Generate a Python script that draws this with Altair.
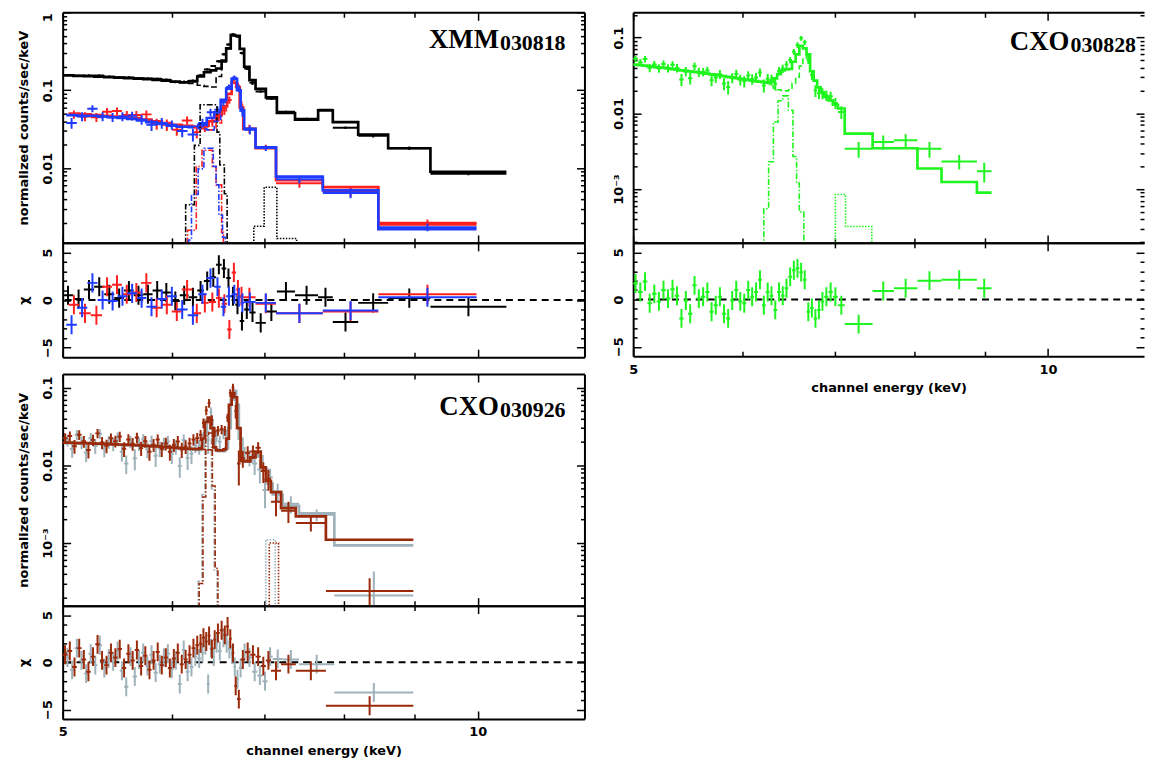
import altair as alt
import pandas as pd

FLOOR = 1e-6
SANS = "DejaVu Sans"
SERIF = "Liberation Serif"

BLACK = "#000000"
RED = "#ff1f1f"
BLUE = "#1f3bff"
GREEN = "#1ef51e"
BROWN = "#9a2a0a"
GREY = "#9fb2ba"

# ---------------- XMM 030818 : black (pn) ----------------
pn_edges = [5.00, 5.09, 5.18, 5.27, 5.36, 5.45, 5.54, 5.63, 5.72, 5.81, 5.90, 5.99, 6.08, 6.17, 6.26,
            6.33, 6.40, 6.46, 6.52, 6.57, 6.62, 6.67, 6.72, 6.77, 6.83, 6.90, 7.02, 7.15, 7.37, 7.66,
            7.85, 8.19, 8.61, 9.24, 10.49]
pn_model = [0.155, 0.153, 0.151, 0.149, 0.147, 0.145, 0.143, 0.141, 0.139, 0.136, 0.133, 0.129, 0.126,
            0.130, 0.150, 0.170, 0.180, 0.190, 0.240, 0.345, 0.510, 0.500, 0.340, 0.200, 0.135, 0.104,
            0.081, 0.051, 0.042, 0.055, 0.039, 0.027, 0.018, 0.009]
pn_flux = [0.157, 0.153, 0.155, 0.154, 0.149, 0.146, 0.146, 0.143, 0.141, 0.140, 0.136, 0.128, 0.128,
           0.132, 0.155, 0.185, 0.205, 0.235, 0.290, 0.385, 0.520, 0.490, 0.300, 0.190, 0.125, 0.096,
           0.078, 0.053, 0.043, 0.056, 0.033, 0.026, 0.018, 0.0085]
pn_err = [0.005, 0.005, 0.005, 0.005, 0.005, 0.005, 0.005, 0.005, 0.005, 0.005, 0.005, 0.005, 0.005,
          0.005, 0.006, 0.006, 0.006, 0.010, 0.010, 0.012, 0.020, 0.020, 0.012, 0.008, 0.008, 0.003,
          0.003, 0.0015, 0.0015, 0.0015, 0.0013, 0.0013, 0.0009, 0.0004]
pn_chi = [0.5, 0.1, 1.1, 1.4, 0.6, 0.2, 1.0, 0.5, 0.6, 1.0, 0.8, -0.1, 0.5, 0.3, 1.0, 2.0, 2.4, 3.7,
          3.3, 2.3, 0.4, -0.5, -2.2, -1.0, -1.3, -2.4, -1.2, 0.9, 0.5, 0.3, -2.3, -0.3, 0.2, -0.7]
pn_dash_edges = [6.08, 6.17, 6.26, 6.33, 6.40, 6.46, 6.52, 6.57, 6.62, 6.67, 6.72, 6.77, 6.83, 6.90]
pn_dash_vals = [0.126, 0.122, 0.116, 0.112, 0.110, 0.150, 0.230, 0.340, 0.500, 0.495, 0.335, 0.198, 0.134]
pn_fe64_edges = [6.10, 6.14, 6.23, 6.29, 6.47, 6.50, 6.55, 6.58, 6.62]
pn_fe64_vals = [FLOOR, 0.0034, 0.0196, 0.065, 0.029, 0.011, 0.0047, FLOOR]
pn_kb_edges = [6.85, 6.88, 7.00, 7.15, 7.39, 7.42]
pn_kb_vals = [FLOOR, 0.0018, 0.0057, 0.00125, FLOOR]

# ---------------- XMM 030818 : red (MOS1) ----------------
m1_edges = [5.05, 5.14, 5.24, 5.34, 5.43, 5.52, 5.61, 5.70, 5.80, 5.90, 6.00, 6.10, 6.21, 6.30, 6.38,
            6.46, 6.52, 6.58, 6.63, 6.68, 6.72, 6.76, 6.90, 7.14, 7.72, 8.47, 9.98]
m1_model = [0.050, 0.049, 0.048, 0.047, 0.046, 0.045, 0.044, 0.042, 0.040, 0.038, 0.036, 0.035, 0.034,
            0.035, 0.040, 0.048, 0.062, 0.090, 0.125, 0.110, 0.060, 0.032, 0.0180, 0.0070, 0.0057, 0.0019]
m1_flux = [0.049, 0.046, 0.045, 0.053, 0.054, 0.048, 0.048, 0.049, 0.037, 0.036, 0.031, 0.041, 0.029,
           0.034, 0.040, 0.046, 0.055, 0.075, 0.140, 0.115, 0.064, 0.032, 0.0185, 0.0064, 0.0050, 0.0020]
m1_err = [0.006, 0.006, 0.006, 0.006, 0.006, 0.006, 0.006, 0.006, 0.006, 0.006, 0.005, 0.005, 0.005,
          0.005, 0.006, 0.006, 0.007, 0.008, 0.010, 0.010, 0.008, 0.004, 0.0015, 0.0008, 0.0007, 0.0002]
m1_chi = [-0.5, -1.4, -1.6, 1.4, 1.6, 0.6, 0.8, 1.8, -0.8, -0.5, -1.2, 1.1, -1.4, -0.3, -0.2, 0.2,
          -0.4, -3.1, 2.9, 1.1, 0.4, 0.3, -0.4, -1.4, -1.2, 0.6]
m1_dash_edges = [6.21, 6.30, 6.38, 6.46, 6.52, 6.58]
m1_dash_vals = [0.033, 0.032, 0.031, 0.038, 0.058]
m1_fe64_edges = [6.12, 6.16, 6.25, 6.31, 6.42, 6.46, 6.52, 6.54, 6.58]
m1_fe64_vals = [FLOOR, 0.0016, 0.0105, 0.017, 0.0105, 0.0061, 0.0015, FLOOR]

# ---------------- XMM 030818 : blue (MOS2) ----------------
m2_edges = [5.03, 5.12, 5.21, 5.30, 5.39, 5.48, 5.57, 5.66, 5.75, 5.85, 5.95, 6.05, 6.16, 6.27, 6.36,
            6.44, 6.51, 6.57, 6.63, 6.69, 6.73, 6.77, 6.90, 7.14, 7.72, 8.47, 9.98]
m2_model = [0.048, 0.047, 0.047, 0.046, 0.045, 0.044, 0.043, 0.041, 0.039, 0.037, 0.035, 0.034, 0.034,
            0.036, 0.044, 0.052, 0.075, 0.105, 0.140, 0.100, 0.055, 0.032, 0.0185, 0.0078, 0.0052, 0.00165]
m2_flux = [0.038, 0.046, 0.058, 0.046, 0.045, 0.046, 0.047, 0.042, 0.036, 0.038, 0.036, 0.030, 0.027,
           0.038, 0.052, 0.056, 0.070, 0.110, 0.145, 0.105, 0.054, 0.031, 0.0181, 0.0072, 0.0048, 0.00175]
m2_err = [0.006, 0.006, 0.006, 0.006, 0.006, 0.006, 0.006, 0.006, 0.006, 0.006, 0.005, 0.005, 0.005,
          0.005, 0.006, 0.006, 0.007, 0.008, 0.010, 0.010, 0.008, 0.004, 0.0015, 0.0008, 0.0007, 0.0002]
m2_chi = [-2.6, -0.8, 1.8, 0.0, -0.1, 0.4, 0.7, 0.2, -0.7, 0.1, 0.4, -1.0, -1.6, 0.6, 2.3, 1.4, -0.7,
          0.4, 0.6, 0.3, -0.3, -0.2, -0.3, -1.4, -1.1, 0.3]
m2_dash_edges = [6.16, 6.27, 6.36, 6.44, 6.51, 6.57]
m2_dash_vals = [0.033, 0.032, 0.031, 0.040, 0.070]
m2_fe64_edges = [6.13, 6.17, 6.20, 6.27, 6.33, 6.43, 6.46, 6.49, 6.53, 6.56, 6.60]
m2_fe64_vals = [FLOOR, 0.0012, 0.0046, 0.0098, 0.018, 0.0105, 0.0061, 0.0025, 0.0013, FLOOR]

# ---------------- CXO 030828 : green ----------------
g_edges = [5.00, 5.04, 5.08, 5.12, 5.16, 5.20, 5.24, 5.28, 5.32, 5.36, 5.40, 5.44, 5.48, 5.52, 5.56,
           5.60, 5.64, 5.68, 5.72, 5.76, 5.80, 5.84, 5.88, 5.92, 5.96, 6.00, 6.04, 6.08, 6.12, 6.16,
           6.20, 6.24, 6.28, 6.32, 6.36, 6.40, 6.44, 6.48, 6.52, 6.56, 6.60, 6.64, 6.68, 6.72, 6.76,
           6.80, 6.84, 6.88, 6.93, 6.98, 7.04, 7.12, 7.46, 7.73, 8.04, 8.37, 8.88, 9.10]
g_model = [0.0440, 0.0433, 0.0426, 0.0419, 0.0412, 0.0405, 0.0398, 0.0391, 0.0384, 0.0377, 0.0370,
           0.0364, 0.0358, 0.0352, 0.0346, 0.0340, 0.0334, 0.0328, 0.0322, 0.0316, 0.0310, 0.0304,
           0.0298, 0.0292, 0.0286, 0.0281, 0.0276, 0.0271, 0.0266, 0.0262, 0.0258,
           0.0255, 0.0262, 0.0290, 0.0330,
           0.0370, 0.0380, 0.0385, 0.0480, 0.0600, 0.0780, 0.0720, 0.0600, 0.0360, 0.0270, 0.0220,
           0.0190, 0.0165, 0.0148, 0.0130, 0.0116,
           0.0054, 0.00346, 0.00346, 0.00187, 0.00124, 0.00090]
g_flux = [0.0525, 0.0473, 0.0521, 0.0399, 0.0442, 0.0395, 0.0448, 0.0396, 0.0439, 0.0397, 0.0280,
          0.0359, 0.0290, 0.0420, 0.0351, 0.0353, 0.0369, 0.0273, 0.0297, 0.0329, 0.0247, 0.0222,
          0.0294, 0.0332, 0.0278, 0.0265, 0.0316, 0.0283, 0.0298, 0.0346, 0.0234, 0.0287, 0.0278,
          0.0246, 0.0365,
          0.0390, 0.0440, 0.0505, 0.0650, 0.0800, 0.0980, 0.0870, 0.0510, 0.0320, 0.0200, 0.0185,
          0.0184, 0.0173, 0.0168, 0.0137, 0.0104,
          0.0034, 0.0042, 0.0044, 0.0034, 0.00232, 0.00172]
g_err = [0.005, 0.005, 0.005, 0.005, 0.005, 0.005, 0.005, 0.005, 0.005, 0.005, 0.005, 0.005, 0.005,
         0.005, 0.005, 0.0045, 0.0045, 0.0045, 0.0045, 0.0045, 0.0045, 0.0045, 0.0045, 0.0045, 0.0045,
         0.0045, 0.0045, 0.0045, 0.0045, 0.0045, 0.0045, 0.0045, 0.0045, 0.0045, 0.0045,
         0.005, 0.005, 0.005, 0.0055, 0.007, 0.007, 0.007,
         0.006, 0.0045, 0.0035, 0.003, 0.003, 0.0027, 0.0025, 0.0023, 0.002,
         0.0008, 0.0009, 0.0009, 0.0008, 0.0005, 0.0005]
g_chi = [1.7, 0.8, 1.9, -0.4, 0.6, -0.2, 1.0, 0.1, 1.1, 0.4, -2.0, -0.1, -1.5, 1.5, 0.1, 0.3, 0.8,
         -1.3, -0.6, 0.3, -1.5, -2.0, -0.1, 1.0, -0.2, -0.4, 1.0, 0.3, 0.8, 2.1, -0.6, 0.8, 0.4,
         -1.1, 0.8, 0.4, 1.2, 2.4, 3.1, 3.3, 2.9, 2.1, -1.3, -0.9, -2.0, -1.1, -0.2, 0.3, 0.8, 0.3,
         -0.6, -2.6, 0.9, 1.2, 2.0, 2.1, 1.2]
g_dash_edges = [6.24, 6.28, 6.32, 6.36, 6.40, 6.44, 6.48, 6.52, 6.56, 6.60, 6.64, 6.68, 6.72, 6.76, 6.80]
g_dash_vals = [0.0250, 0.0230, 0.0215, 0.0205, 0.0200, 0.0198, 0.0205, 0.0250, 0.0300, 0.0420,
               0.0540, 0.0580, 0.0360, 0.0270]
g_fe64_edges = [6.18, 6.22, 6.27, 6.32, 6.37, 6.42, 6.48, 6.53, 6.57, 6.60, 6.65, 6.70]
g_fe64_vals = [FLOOR, 5.5e-4, 2.3e-3, 7.7e-3, 0.0147, 0.017, 0.011, 2.7e-3, 1.2e-3, 5e-4, FLOOR]
g_kb_edges = [6.98, 7.01, 7.13, 7.45, 7.50]
g_kb_vals = [FLOOR, 8.5e-4, 3.2e-4, FLOOR]

# ---------------- CXO 030926 : brown ----------------
b_edges = [5.00, 5.04, 5.08, 5.12, 5.16, 5.20, 5.24, 5.28, 5.32, 5.36, 5.40, 5.44, 5.48, 5.52, 5.56,
           5.60, 5.64, 5.68, 5.72, 5.76, 5.80, 5.84, 5.88, 5.92, 5.96, 6.00, 6.04, 6.08, 6.12, 6.16,
           6.20, 6.24, 6.28, 6.31, 6.34, 6.37, 6.40, 6.43, 6.46, 6.50, 6.54, 6.57, 6.60, 6.63, 6.66,
           6.69, 6.73, 6.78, 6.84, 6.90, 6.96, 7.02, 7.08, 7.20, 7.38, 7.76, 8.98]
b_model = [0.0195, 0.0195, 0.0194, 0.0193, 0.0193, 0.0192, 0.0191, 0.0190, 0.0189, 0.0188, 0.0187,
           0.0186, 0.0185, 0.0184, 0.0183, 0.0182, 0.0181, 0.0180, 0.0178, 0.0177, 0.0176, 0.0175,
           0.0173, 0.0172, 0.0170, 0.0169, 0.0167, 0.0166, 0.0164, 0.0163, 0.0162, 0.0161,
           0.0165, 0.0220, 0.0360, 0.0410, 0.0300, 0.0170, 0.0155, 0.0155, 0.0160, 0.0220, 0.0600,
           0.0850, 0.0750, 0.0300,
           0.0114, 0.0112, 0.0126, 0.0150, 0.0094, 0.0063,
           0.0045, 0.0028, 0.0022, 0.0011]
b_flux = [0.0223, 0.0237, 0.0176, 0.0246, 0.0203, 0.0157, 0.0212, 0.0257, 0.0196, 0.0178, 0.0222,
          0.0204, 0.0234, 0.0163, 0.0215, 0.0189, 0.0227, 0.0166, 0.0203, 0.0149, 0.0183, 0.0214,
          0.0163, 0.0190, 0.0149, 0.0183, 0.0202, 0.0159, 0.0174, 0.0191, 0.0215, 0.0224,
          0.0245, 0.0350, 0.0510, 0.0630, 0.0380, 0.0270, 0.0280, 0.0290, 0.0280, 0.0410, 0.0850,
          0.1000, 0.0500, 0.0105,
          0.0123, 0.0145, 0.0150, 0.0168, 0.0084, 0.0067,
          0.0034, 0.0026, 0.0018, 0.00024]
b_err = [0.0035, 0.0035, 0.0035, 0.0035, 0.0035, 0.0035, 0.0035, 0.0035, 0.0035, 0.0035, 0.0035,
         0.0035, 0.0035, 0.0035, 0.0035, 0.0035, 0.0035, 0.0035, 0.0035, 0.0035, 0.0035, 0.0035,
         0.0035, 0.0035, 0.0035, 0.0035, 0.0035, 0.0035, 0.0035, 0.0035, 0.0035, 0.0035,
         0.004, 0.005, 0.007, 0.008, 0.006, 0.004, 0.004, 0.004, 0.004, 0.005, 0.010, 0.012, 0.010,
         0.005,
         0.003, 0.003, 0.003, 0.003, 0.0025, 0.002,
         0.0012, 0.0008, 0.0004, 0.00011]
b_chi = [0.8, 1.2, -0.5, 1.5, 0.3, -1.0, 0.6, 1.9, 0.2, -0.3, 1.0, 0.5, 1.4, -0.6, 0.9, 0.2, 1.3,
         -0.4, 0.7, -0.8, 0.2, 1.1, -0.3, 0.5, -0.6, 0.4, 1.0, -0.2, 0.3, 0.8, 1.5, 1.8,
         2.0, 2.6, 2.2, 2.8, 1.4, 2.4, 3.1, 3.4, 2.9, 3.8, 2.5, 1.0, -2.5, -3.9,
         0.3, 1.1, 0.8, 0.6, -0.4, 0.2,
         -0.9, -0.2, -0.9, -4.6]
b_dash_edges = [6.28, 6.31, 6.34, 6.37, 6.40, 6.43, 6.46]
b_dash_vals = [0.0161, 0.0160, 0.0159, 0.0158, 0.0157, 0.0156]
b_fe64_edges = [6.24, 6.28, 6.32, 6.35, 6.38, 6.42, 6.45, 6.48, 6.52]
b_fe64_vals = [FLOOR, 3.0e-4, 3.9e-3, 0.024, 0.026, 5.4e-3, 4.7e-4, FLOOR]
b_kb_edges = [7.00, 7.06, 7.17, 7.20]
b_kb_vals = [FLOOR, 1.0e-3, FLOOR]

# ---------------- CXO 030926 : grey ----------------
r_edges = [5.02, 5.06, 5.10, 5.14, 5.18, 5.22, 5.26, 5.30, 5.34, 5.38, 5.42, 5.46, 5.50, 5.54, 5.58,
           5.62, 5.66, 5.70, 5.74, 5.78, 5.82, 5.86, 5.90, 5.94, 5.98, 6.02, 6.06, 6.10, 6.14, 6.18,
           6.22, 6.26, 6.30, 6.33, 6.36, 6.39, 6.42, 6.45, 6.48, 6.52, 6.56, 6.59, 6.62, 6.65, 6.68,
           6.71, 6.75, 6.80, 6.86, 6.92, 6.98, 7.04, 7.10, 7.22, 7.42, 7.87, 8.98]
r_model = [0.0192, 0.0192, 0.0191, 0.0190, 0.0190, 0.0189, 0.0188, 0.0187, 0.0186, 0.0185, 0.0184,
           0.0183, 0.0182, 0.0181, 0.0180, 0.0179, 0.0178, 0.0177, 0.0175, 0.0174, 0.0173, 0.0172,
           0.0170, 0.0169, 0.0167, 0.0166, 0.0164, 0.0163, 0.0161, 0.0160, 0.0159, 0.0158,
           0.0175, 0.0260, 0.0370, 0.0380, 0.0240, 0.0160, 0.0152, 0.0152, 0.0165, 0.0300, 0.0700,
           0.0900, 0.0600, 0.0220,
           0.0112, 0.0112, 0.0135, 0.0130, 0.0088, 0.0058,
           0.0042, 0.0030, 0.0024, 0.00093]
r_flux = [0.0211, 0.0162, 0.0247, 0.0197, 0.0146, 0.0222, 0.0177, 0.0254, 0.0164, 0.0200, 0.0188,
          0.0227, 0.0149, 0.0105, 0.0202, 0.0123, 0.0189, 0.0214, 0.0160, 0.0204, 0.0132, 0.0165,
          0.0189, 0.0202, 0.0141, 0.0173, 0.0098, 0.0211, 0.0124, 0.0141, 0.0181, 0.0173,
          0.0215, 0.0350, 0.0210, 0.0485, 0.0270, 0.0240, 0.0200, 0.0256, 0.0245, 0.0384, 0.0780,
          0.0840, 0.0440, 0.0190,
          0.0142, 0.0127, 0.0105, 0.0088, 0.0048, 0.0070,
          0.0046, 0.0032, 0.0023, 0.00021]
r_err = [0.0037, 0.0037, 0.0037, 0.0037, 0.0037, 0.0037, 0.0037, 0.0037, 0.0037, 0.0037, 0.0037,
         0.0037, 0.0037, 0.0028, 0.0037, 0.0037, 0.0037, 0.0037, 0.0037, 0.0037, 0.0037, 0.0037,
         0.0037, 0.0037, 0.0037, 0.0037, 0.0029, 0.0037, 0.0037, 0.0037, 0.0037, 0.0037,
         0.004, 0.005, 0.007, 0.007, 0.005, 0.004, 0.004, 0.004, 0.004, 0.006, 0.010, 0.012, 0.009,
         0.005,
         0.003, 0.003, 0.003, 0.003, 0.002, 0.002,
         0.0012, 0.0008, 0.0004, 0.00022]
r_chi = [0.5, -0.8, 1.5, 0.2, -1.2, 0.9, -0.3, 1.8, -0.6, 0.4, 0.1, 1.2, -0.9, -2.6, 0.6, -1.5, 0.3,
         1.0, -0.4, 0.8, -1.1, -0.2, 0.5, 0.9, -0.7, 0.2, -2.3, 1.3, -1.0, -0.5, 0.6, 0.4,
         1.0, 1.8, -2.3, 1.5, 0.6, 2.0, 1.2, 2.6, 2.0, 1.4, 0.8, -0.5, -1.8, -0.6,
         1.0, 0.5, -1.0, -1.4, -2.0, 0.6,
         0.35, 0.3, -0.2, -3.2]
r_fe64_edges = [6.23, 6.27, 6.31, 6.34, 6.37, 6.41, 6.44, 6.47, 6.51]
r_fe64_vals = [FLOOR, 3.2e-4, 4.2e-3, 0.021, 0.022, 5.0e-3, 4.5e-4, FLOOR]
r_kb_edges = [6.97, 7.02, 7.13, 7.16]
r_kb_vals = [FLOOR, 1.1e-3, FLOOR]

# axis tick positions / labels
x_major = [5.0, 10.0]
x_minor = [6.0, 7.0, 8.0, 9.0]
res_major = [-5.0, 0.0, 5.0]
res_minor = [-4.0, -3.0, -2.0, -1.0, 1.0, 2.0, 3.0, 4.0]


# ---------------- helpers ----------------
def spec_df(edges, flux, err):
    rows = []
    for i in range(len(flux)):
        lo, hi = edges[i], edges[i + 1]
        rows.append({"elo": lo, "ehi": hi, "emid": (lo * hi) ** 0.5, "f": flux[i],
                     "flo": max(flux[i] - err[i], FLOOR), "fhi": flux[i] + err[i]})
    return pd.DataFrame(rows)


def res_df(edges, chi):
    rows = []
    for i in range(len(chi)):
        lo, hi = edges[i], edges[i + 1]
        rows.append({"elo": lo, "ehi": hi, "emid": (lo * hi) ** 0.5, "chi": chi[i],
                     "clo": chi[i] - 1.0, "chigh": chi[i] + 1.0})
    return pd.DataFrame(rows)


def step_df(edges, vals):
    rows = [{"e": edges[i], "v": vals[i], "k": i} for i in range(len(vals))]
    rows.append({"e": edges[-1], "v": vals[-1], "k": len(vals)})
    return pd.DataFrame(rows)


def cross_layers(df, color, xs, ys, yf, lof, hif, width=2.0):
    h = alt.Chart(df).mark_rule(color=color, strokeWidth=width, clip=True).encode(
        x=alt.X("elo:Q", scale=xs, axis=None), x2="ehi:Q",
        y=alt.Y(f"{yf}:Q", scale=ys, axis=None))
    v = alt.Chart(df).mark_rule(color=color, strokeWidth=width, clip=True).encode(
        x=alt.X("emid:Q", scale=xs, axis=None),
        y=alt.Y(f"{lof}:Q", scale=ys, axis=None), y2=f"{hif}:Q")
    return [h, v]


def step_layer(df, color, xs, ys, width=2.7, dash=None):
    kw = dict(interpolate="step-after", color=color, strokeWidth=width, clip=True)
    if dash is not None:
        kw["strokeDash"] = dash
    return alt.Chart(df).mark_line(**kw).encode(
        x=alt.X("e:Q", scale=xs, axis=None), y=alt.Y("v:Q", scale=ys, axis=None),
        order="k:Q")


# inward ticks: an axis of the opposite orient, shifted across the plot by a negative offset
OPPOSITE = {"bottom": "top", "top": "bottom", "left": "right", "right": "left"}


def tick_axis(side, values, size, domain, W, H):
    shift = -H if side in ("top", "bottom") else -W
    kw = dict(orient=OPPOSITE[side], offset=shift, values=values, labels=False, grid=False,
              ticks=True, tickSize=size, tickColor="black", tickWidth=1.5,
              title=None, domain=domain, minExtent=0)
    if domain:
        kw.update(domainColor="black", domainWidth=2)
    return alt.Axis(**kw)


def ylabel_axis(values, expr, title, top_shift):
    kw = dict(orient="left", values=values, labelExpr=expr, ticks=False, domain=False, grid=False,
              labelAngle=270, labelAlign="center", labelBaseline="bottom", labelPadding=8,
              labelFont=SANS, labelFontSize=13, labelFontWeight="bold", labelColor="black",
              labelFlush=False, labelOverlap=False, minExtent=0)
    if top_shift:
        kw["labelOffset"] = {"condition": {"test": "datum.value >= 0.99", "value": 5}, "value": 0}
    if title:
        kw.update(title=title, titleFont=SANS, titleFontSize=13, titleFontWeight="bold",
                  titleColor="black", titlePadding=11)
    else:
        kw["title"] = None
    return alt.Axis(**kw)


def xlabel_axis():
    return alt.Axis(orient="bottom", values=x_major, labelExpr="'' + datum.value", ticks=False,
                    domain=False, grid=False, labelPadding=7, labelFont=SANS, labelFontSize=13,
                    labelFontWeight="bold", labelColor="black", labelFlush=False,
                    title="channel energy (keV)", titleFont=SANS, titleFontSize=13,
                    titleFontWeight="bold", titleColor="black", titlePadding=6)


def axis_layers(df, xf, yf, xs, ys, y_major, y_minor, lab_vals, lab_expr, ytitle, xlabels,
                W, H, right_frame=True, top_shift=False):
    pairs = [
        (tick_axis("bottom", x_major, 8, True, W, H), tick_axis("left", y_major, 8, True, W, H)),
        (tick_axis("bottom", x_minor, 5, False, W, H), tick_axis("left", y_minor, 4, False, W, H)),
        (tick_axis("top", x_major, 8, True, W, H),
         tick_axis("right", y_major, 8, right_frame, W, H)),
        (tick_axis("top", x_minor, 5, False, W, H), tick_axis("right", y_minor, 4, False, W, H)),
        (xlabel_axis() if xlabels else None, ylabel_axis(lab_vals, lab_expr, ytitle, top_shift)),
    ]
    out = []
    for xa, ya in pairs:
        out.append(alt.Chart(df).mark_point(opacity=0).encode(
            x=alt.X(f"{xf}:Q", scale=xs, axis=xa), y=alt.Y(f"{yf}:Q", scale=ys, axis=ya)))
    return out


def name_layers(main, sub, x, y):
    a = alt.Chart(pd.DataFrame({"t": [main]})).mark_text(
        font=SERIF, fontSize=27, fontWeight="bold", align="right", baseline="alphabetic",
        color="black").encode(text="t:N", x=alt.value(x), y=alt.value(y))
    b = alt.Chart(pd.DataFrame({"t": [sub]})).mark_text(
        font=SERIF, fontSize=22, fontWeight="bold", align="left", baseline="alphabetic",
        color="black").encode(text="t:N", x=alt.value(x + 1), y=alt.value(y + 2))
    return [a, b]


def minor_log(lo, hi):
    vals = []
    for p in range(-5, 1):
        for k in range(2, 10):
            v = k * 10.0 ** p
            if lo < v < hi:
                vals.append(v)
    return vals


SPEC_EXPR = ("datum.value >= 0.99 ? '1' : datum.value >= 0.099 ? '0.1' : "
             "datum.value >= 0.0099 ? '0.01' : '10\u207b\u00b3'")
RES_EXPR = "datum.value < 0 ? '\u2212' + abs(datum.value) : '' + datum.value"

xsL = alt.Scale(type="log", domain=[5.0, 11.95], nice=False)
xsR = alt.Scale(type="log", domain=[5.0, 11.74], nice=False)
rs = alt.Scale(domain=[-6.0, 6.0], nice=False, zero=False)


def spectrum_panel(sets, comps, xs, ydom, W, H, ytitle, name, right_frame=True):
    ys = alt.Scale(type="log", domain=ydom, nice=False)
    majors = [v for v in [1.0, 0.1, 0.01, 0.001] if ydom[0] <= v <= ydom[1]]
    layers = []
    first = None
    for d, color in sets:
        sdf = spec_df(d[0], d[1], d[2])
        if first is None:
            first = sdf
        layers += cross_layers(sdf, color, xs, ys, "f", "flo", "fhi")
        layers.append(step_layer(step_df(d[0], d[3]), color, xs, ys))
    for edges, vals, color, dash in comps:
        layers.append(step_layer(step_df(edges, vals), color, xs, ys, width=1.6, dash=dash))
    layers += axis_layers(first, "emid", "f", xs, ys, majors, minor_log(ydom[0], ydom[1]),
                          majors, SPEC_EXPR, ytitle, False, W, H, right_frame,
                          top_shift=(ydom[1] >= 0.99))
    layers += name_layers(name[0], name[1], 439, name[2])
    return alt.layer(*layers).resolve_axis(x="independent", y="independent").properties(
        width=W, height=H)


def residual_panel(sets, xs, W, H, ytitle, xlabels, right_frame=True):
    layers = []
    zero = alt.Chart(pd.DataFrame({"z": [0.0]})).mark_rule(
        color="black", strokeWidth=2, strokeDash=[7, 5]).encode(
        y=alt.Y("z:Q", scale=rs, axis=None))
    layers.append(zero)
    first = None
    for edges, chi, color in sets:
        rdf = res_df(edges, chi)
        if first is None:
            first = rdf
        layers += cross_layers(rdf, color, xs, rs, "chi", "clo", "chigh")
    layers += axis_layers(first, "emid", "chi", xs, rs, res_major, res_minor, res_major,
                          RES_EXPR, ytitle, xlabels, W, H, right_frame)
    return alt.layer(*layers).resolve_axis(x="independent", y="independent").properties(
        width=W, height=H)


DASH = [6, 3]
DASHDOT = [6, 2, 1.5, 2]
DOT = [1.5, 1.5]
YT = "normalized counts/sec/keV"

A_spec = spectrum_panel(
    [((pn_edges, pn_flux, pn_err, pn_model), BLACK),
     ((m1_edges, m1_flux, m1_err, m1_model), RED),
     ((m2_edges, m2_flux, m2_err, m2_model), BLUE)],
    [(pn_dash_edges, pn_dash_vals, BLACK, DASH), (pn_fe64_edges, pn_fe64_vals, BLACK, DASHDOT),
     (pn_kb_edges, pn_kb_vals, BLACK, DOT),
     (m1_dash_edges, m1_dash_vals, RED, DASH), (m1_fe64_edges, m1_fe64_vals, RED, DASHDOT),
     (m2_dash_edges, m2_dash_vals, BLUE, DASH), (m2_fe64_edges, m2_fe64_vals, BLUE, DASHDOT)],
    xsL, [1.1e-3, 1.0], 525, 232, YT, ("XMM", "030818", 36))
A_res = residual_panel([(pn_edges, pn_chi, BLACK), (m1_edges, m1_chi, RED),
                        (m2_edges, m2_chi, BLUE)], xsL, 525, 115, "\u03c7", False)

B_spec = spectrum_panel(
    [((r_edges, r_flux, r_err, r_model), GREY),
     ((b_edges, b_flux, b_err, b_model), BROWN)],
    [(r_fe64_edges, r_fe64_vals, GREY, DASHDOT), (r_kb_edges, r_kb_vals, GREY, DOT),
     (b_dash_edges, b_dash_vals, BROWN, DASH), (b_fe64_edges, b_fe64_vals, BROWN, DASHDOT),
     (b_kb_edges, b_kb_vals, BROWN, DOT)],
    xsL, [1.56e-4, 0.149], 525, 233, YT, ("CXO", "030926", 41))
B_res = residual_panel([(r_edges, r_chi, GREY), (b_edges, b_chi, BROWN)], xsL, 525, 114,
                       "\u03c7", True)

C_spec = spectrum_panel(
    [((g_edges, g_flux, g_err, g_model), GREEN)],
    [(g_dash_edges, g_dash_vals, GREEN, DASH), (g_fe64_edges, g_fe64_vals, GREEN, DASHDOT),
     (g_kb_edges, g_kb_vals, GREEN, DOT)],
    xsR, [1.95e-4, 0.216], 514, 232, None, ("CXO", "030828", 38), right_frame=False)
C_res = residual_panel([(g_edges, g_chi, GREEN)], xsR, 514, 114, None, True, right_frame=False)

left = alt.vconcat(alt.vconcat(A_spec, A_res, spacing=0, bounds="flush"),
                   alt.vconcat(B_spec, B_res, spacing=0, bounds="flush"), spacing=13)
right = alt.vconcat(C_spec, C_res, spacing=0, bounds="flush")

chart = alt.hconcat(left, right, spacing=25).properties(
    padding={"left": 9, "top": 0, "right": 0, "bottom": 0}, background="white"
).configure_view(stroke="transparent")

chart.save("out.html", embed_options={"renderer": "svg", "actions": False})
